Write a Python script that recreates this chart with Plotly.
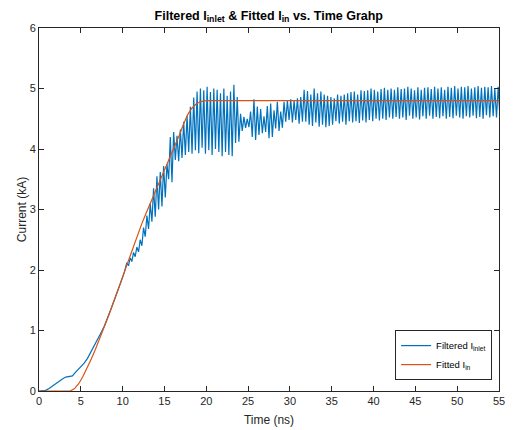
import plotly.graph_objects as go

# ---- measured (filtered) inlet current ----
# slow initial rise, sampled every 0.4 ns
t_rise = [0.0, 0.4, 0.8, 1.2, 1.6, 2.0, 2.4, 2.8, 3.2, 3.6, 4.0, 4.3, 4.6, 5.0,
          5.4, 5.8, 6.2, 6.6, 7.0, 7.4, 7.8, 8.2, 8.6, 9.0, 9.4, 9.8, 10.2]
i_rise = [0.0, 0.0, 0.01, 0.04, 0.08, 0.13, 0.17, 0.2, 0.23, 0.24, 0.25, 0.3, 0.34, 0.4,
          0.46, 0.54, 0.64, 0.75, 0.86, 0.96, 1.07, 1.2, 1.35, 1.5, 1.64, 1.8, 1.96]

# ringing part, sampled every 0.2 ns starting at 10.5 ns (one row = 2 ns)
t_ring_start = 10.5
t_ring_step = 0.2
i_ring = [
    2.12, 2.07, 2.20, 2.14, 2.29, 2.22, 2.38, 2.30, 2.50, 2.40,
    2.70, 2.55, 2.90, 2.68, 3.10, 2.80, 3.35, 2.88, 3.55, 3.00,
    3.62, 3.05, 3.72, 3.20, 3.75, 3.50, 4.20, 3.45, 4.28, 3.82,
    4.22, 3.80, 4.32, 3.85, 4.45, 3.90, 4.55, 3.95, 4.70, 3.92,
    4.85, 3.98, 4.95, 3.93, 5.00, 4.02, 4.97, 3.92, 5.03, 3.98,
    4.94, 3.90, 5.00, 4.00, 4.98, 3.95, 4.92, 3.88, 5.00, 3.95,
    4.88, 3.90, 4.95, 3.88, 5.06, 4.10, 4.86, 4.12, 4.58, 4.30,
    4.53, 4.35, 4.50, 4.36, 4.62, 4.20, 4.82, 4.15, 4.70, 4.23,
    4.66, 4.26, 4.54, 4.28, 4.71, 4.18, 4.75, 4.20, 4.64, 4.34,
    4.78, 4.30, 4.62, 4.35, 4.78, 4.45, 4.80, 4.48, 4.82, 4.44,
    4.80, 4.48, 4.84, 4.42, 4.86, 4.45, 4.98, 4.45, 4.96, 4.40,
    4.90, 4.38, 5.00, 4.44, 4.92, 4.37, 4.95, 4.40, 4.90, 4.36,
    4.88, 4.38, 4.86, 4.40, 4.84, 4.46, 4.90, 4.42, 4.88, 4.45,
    4.90, 4.40, 4.92, 4.46, 4.94, 4.44, 4.95, 4.46, 4.90, 4.43,
    4.97, 4.47, 4.96, 4.44, 4.97, 4.48, 5.00, 4.46, 4.98, 4.50,
    4.95, 4.47, 4.99, 4.50, 5.01, 4.48, 4.98, 4.52, 5.00, 4.50,
    4.98, 4.53, 5.02, 4.50, 4.99, 4.52, 5.00, 4.48, 5.03, 4.55,
    5.00, 4.50, 4.97, 4.52, 5.02, 4.49, 4.98, 4.54, 5.01, 4.50,
    5.02, 4.55, 4.99, 4.50, 5.03, 4.53, 5.00, 4.51, 5.02, 4.54,
    4.98, 4.50, 5.03, 4.53, 5.01, 4.51, 5.04, 4.55, 5.00, 4.52,
    5.03, 4.50, 5.02, 4.54, 5.04, 4.52, 5.00, 4.55, 5.02, 4.51,
    5.04, 4.53, 5.01, 4.50, 5.03, 4.56, 5.02, 4.52, 5.04, 4.54,
    5.00, 4.52, 5.03, 4.55, 4.95,
]
t_ring = [round(t_ring_start + k * t_ring_step, 3) for k in range(len(i_ring))]

t_filtered = t_rise + t_ring
i_filtered = i_rise + i_ring

# ---- fitted inlet current ----
t_fit = [0.0, 3.75, 4.25, 4.75, 5.25, 5.75, 6.25, 6.75, 7.25, 7.75, 8.25, 8.75, 9.25,
         9.75, 10.25, 10.75, 11.25, 11.75, 12.25, 12.75, 13.25, 13.75, 14.25, 14.75,
         15.25, 15.75, 16.25, 16.75, 17.25, 17.75, 18.25, 18.75, 19.25, 19.75, 20.5, 55.0]
i_fit = [0.0, 0.0, 0.04, 0.12, 0.24, 0.38, 0.53, 0.69, 0.86, 1.04, 1.22, 1.41, 1.6,
         1.8, 2.0, 2.2, 2.39, 2.57, 2.75, 2.92, 3.08, 3.24, 3.4, 3.56,
         3.72, 3.88, 4.05, 4.22, 4.4, 4.56, 4.67, 4.74, 4.78, 4.795, 4.8, 4.8]

x_ticks = [0, 5, 10, 15, 20, 25, 30, 35, 40, 45, 50, 55]
y_ticks = [0, 1, 2, 3, 4, 5, 6]

BLUE = "#0072BD"
ORANGE = "#D95319"
AXIS = "#262626"
FONT = "Liberation Sans, Arial, Helvetica, sans-serif"

fig = go.Figure()
fig.add_trace(go.Scatter(x=t_filtered, y=i_filtered, mode="lines",
                         line=dict(color=BLUE, width=1.2),
                         name="Filtered I<sub>inlet</sub>"))
fig.add_trace(go.Scatter(x=t_fit, y=i_fit, mode="lines",
                         line=dict(color=ORANGE, width=1.2),
                         name="Fitted I<sub>in</sub>"))

axis_common = dict(showgrid=False, zeroline=False, showline=True, linecolor=AXIS,
                   linewidth=1, mirror="ticks", ticks="inside", ticklen=5,
                   tickcolor=AXIS, tickwidth=1, automargin=False,
                   tickfont=dict(family=FONT, size=11, color=AXIS))

fig.update_layout(
    width=525, height=430,
    margin=dict(l=39, r=26, t=28, b=39),
    paper_bgcolor="white", plot_bgcolor="white",
    title=dict(text="<b>Filtered I<sub>inlet</sub> & Fitted I<sub>in</sub> vs. Time Grahp</b>",
               x=0.512, xanchor="center", y=0.975, yanchor="top",
               font=dict(family=FONT, size=12.5, color="black")),
    xaxis=dict(range=[0, 55], tickvals=x_ticks,
               title=dict(text="Time (ns)", standoff=9,
                          font=dict(family=FONT, size=12, color=AXIS)),
               **axis_common),
    yaxis=dict(range=[0, 6], tickvals=y_ticks,
               title=dict(text="Current (kA)", standoff=0,
                          font=dict(family=FONT, size=12, color=AXIS)),
               **axis_common),
    legend=dict(x=0.985, y=0.03, xanchor="right", yanchor="bottom",
                bgcolor="white", bordercolor=AXIS, borderwidth=1,
                font=dict(family=FONT, size=9.5, color="black"),
                tracegroupgap=0, itemwidth=30),
    showlegend=True,
)

fig.write_html("out.html")
